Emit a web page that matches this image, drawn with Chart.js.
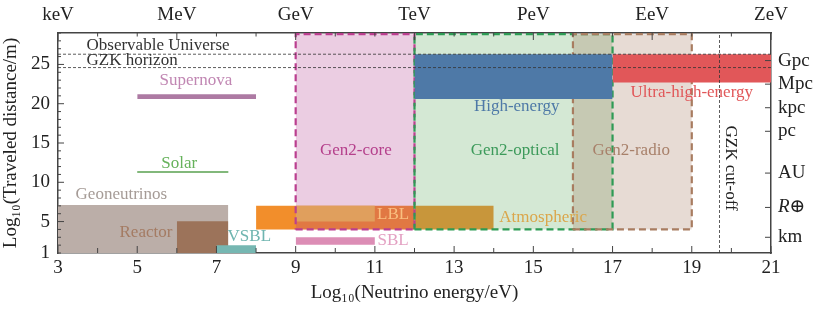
<!DOCTYPE html>
<html>
<head>
<meta charset="utf-8">
<script src="https://cdn.jsdelivr.net/npm/chart.js@4"></script>
<style>
  html, body { margin: 0; padding: 0; background: #fff; }
  #wrap { width: 822px; height: 311px; }
</style>
</head>
<body>
<div id="wrap"><canvas id="reach"></canvas></div>
<script>
// --- data (log10 energy in eV, log10 distance in m) ---
const energyMin = 3, energyMax = 21;
const distMin = 1, distMax = 29;

const topTickValues = [3, 6, 9, 12, 15, 18, 21];
const topTickLabels = ['keV', 'MeV', 'GeV', 'TeV', 'PeV', 'EeV', 'ZeV'];
const leftTickLabels = [1, 5, 10, 15, 20, 25];
const rightTickValues = [25.49, 22.49, 19.49, 16.49, 11.17, 6.80, 3.0];
const rightTickLabels = ['Gpc', 'Mpc', 'kpc', 'pc', 'AU', 'R⊕', 'km'];

// sources drawn below the Gen2 footprints
const sourceNames = ['Geoneutrinos', 'Reactor', 'VSBL', 'LBL', 'Atmospheric-low', 'Atmospheric', 'SBL', 'Supernova'];
const sourceEmin  = [3,    6,    7,   8,  9,  12, 9,    5];
const sourceEmax  = [7.3,  7.3,  8,   12, 11, 14, 11,   8];
const sourceDmin  = [1,    1,    1,   4,  5,  4,  2.05, 20.6];
const sourceDmax  = [7.1,  5.05, 2.0, 7,  7,  7,  3.0,  21.2];

// Gen2 footprints (dashed boxes)
const gen2Names = ['Gen2-core', 'Gen2-optical', 'Gen2-radio'];
const gen2Emin  = [9, 12, 16];
const gen2Emax  = [12, 17, 19];
const gen2Dmin  = [4, 4, 4];
const gen2Dmax  = [28.85, 28.85, 28.85];

// cosmic fluxes drawn on top
const cosmicNames = ['High-energy', 'Ultra-high-energy'];
const cosmicEmin  = [12, 17];
const cosmicEmax  = [17, 21];
const cosmicDmin  = [20.6, 22.7];
const cosmicDmax  = [26.3, 26.3];

const solarE = [5, 7.3];
const solarD = 11.3;
const observableUniverse = 26.3;
const gzkHorizon = 24.6;
const gzkCutoff = 19.7;

// --- styles ---
const fillColors = {
  'Geoneutrinos': '#bbaea8', 'Reactor': '#9c735a', 'VSBL': '#76b7b2', 'LBL': '#f28e2b',
  'Atmospheric-low': '#f0c24e', 'Atmospheric': '#f0973c', 'SBL': '#dc8db5', 'Supernova': '#ad7aa3',
  'Gen2-core': 'rgba(176,57,138,0.25)', 'Gen2-optical': 'rgba(60,150,60,0.22)', 'Gen2-radio': 'rgba(150,100,70,0.23)',
  'High-energy': '#4e79a7', 'Ultra-high-energy': '#e15759'
};
const edgeColors = { 'Gen2-core': '#bb3f8f', 'Gen2-optical': '#2e9b55', 'Gen2-radio': '#a87c60' };
const FONT = "'Liberation Serif', 'DejaVu Serif', serif";
const INK = '#222';

const labels = [
  { text: 'Observable Universe', x: 3.72, y: 27.35, color: '#333', align: 'left' },
  { text: 'GZK horizon', x: 3.72, y: 25.45, color: '#333', align: 'left' },
  { text: 'Supernova', x: 6.48, y: 22.9, color: '#c187b3' },
  { text: 'Solar', x: 6.06, y: 12.45, color: '#66b25b' },
  { text: 'Geoneutrinos', x: 4.6, y: 8.4, color: '#a59b96' },
  { text: 'Reactor', x: 5.22, y: 3.6, color: '#a47b63' },
  { text: 'VSBL', x: 7.83, y: 3.1, color: '#6fb5b0' },
  { text: 'LBL', x: 11.46, y: 5.85, color: '#f9bf80' },
  { text: 'SBL', x: 11.46, y: 2.55, color: '#e3a0c2' },
  { text: 'Atmospheric', x: 15.25, y: 5.55, color: '#dba64b' },
  { text: 'Gen2-core', x: 10.52, y: 14.0, color: '#b5408c' },
  { text: 'High-energy', x: 14.58, y: 19.6, color: '#4e79a7' },
  { text: 'Gen2-optical', x: 14.54, y: 14.0, color: '#3c9a5a' },
  { text: 'Gen2-radio', x: 17.47, y: 14.0, color: '#a8806a' },
  { text: 'Ultra-high-energy', x: 19.0, y: 21.4, color: '#e15759' },
  { text: 'GZK cut-off', x: 19.97, y: 11.8, color: '#222', rotate: true }
];

function filledBox(name, e0, e1, d0, d1) {
  return {
    label: name,
    data: [{ x: e0, y: d1 }, { x: e1, y: d1 }],
    borderWidth: 0, pointRadius: 0, tension: 0,
    backgroundColor: fillColors[name],
    fill: { value: d0 }
  };
}
function dashedEdge(name, e0, e1, d0, d1) {
  return {
    label: name + ' edge',
    data: [{ x: e0, y: d0 }, { x: e1, y: d0 }, { x: e1, y: d1 }, { x: e0, y: d1 }, { x: e0, y: d0 }],
    borderColor: edgeColors[name], borderWidth: 2.2, borderDash: [7, 4],
    pointRadius: 0, fill: false, tension: 0
  };
}
function refLine(name, pts) {
  return {
    label: name, data: pts, borderColor: '#333', borderWidth: 0.8, borderDash: [3, 2],
    pointRadius: 0, fill: false, tension: 0
  };
}

const layers = [];
sourceNames.forEach((n, i) => layers.push(filledBox(n, sourceEmin[i], sourceEmax[i], sourceDmin[i], sourceDmax[i])));
layers.push({
  label: 'Solar', data: [{ x: solarE[0], y: solarD }, { x: solarE[1], y: solarD }],
  borderColor: '#59a14f', borderWidth: 1.5, pointRadius: 0, fill: false
});
gen2Names.forEach((n, i) => layers.push(filledBox(n, gen2Emin[i], gen2Emax[i], gen2Dmin[i], gen2Dmax[i])));
gen2Names.forEach((n, i) => layers.push(dashedEdge(n, gen2Emin[i], gen2Emax[i], gen2Dmin[i], gen2Dmax[i])));
cosmicNames.forEach((n, i) => layers.push(filledBox(n, cosmicEmin[i], cosmicEmax[i], cosmicDmin[i], cosmicDmax[i])));
layers.push(refLine('Observable Universe', [{ x: energyMin, y: observableUniverse }, { x: energyMax, y: observableUniverse }]));
layers.push(refLine('GZK horizon', [{ x: energyMin, y: gzkHorizon }, { x: energyMax, y: gzkHorizon }]));
layers.push(refLine('GZK cut-off', [{ x: gzkCutoff, y: distMin }, { x: gzkCutoff, y: distMax }]));
// first pushed = bottom layer
layers.forEach((ds, i) => { ds.order = layers.length - i; });

const textLabels = {
  id: 'textLabels',
  afterDatasetsDraw(chart) {
    const { ctx, scales } = chart;
    ctx.save();
    ctx.font = '17px ' + FONT;
    ctx.textBaseline = 'middle';
    labels.forEach(l => {
      const px = scales.x.getPixelForValue(l.x);
      const py = scales.y.getPixelForValue(l.y);
      ctx.fillStyle = l.color;
      if (l.rotate) {
        ctx.save();
        ctx.translate(px, py);
        ctx.rotate(Math.PI / 2);
        ctx.textAlign = 'center';
        ctx.fillText(l.text, 0, 0);
        ctx.restore();
      } else {
        ctx.textAlign = l.align || 'center';
        ctx.fillText(l.text, px, py);
      }
    });
    ctx.restore();
  }
};

// matplotlib-style ticks pointing into the plot
const inwardTicks = {
  id: 'inwardTicks',
  afterDraw(chart) {
    const { ctx, chartArea: a, scales } = chart;
    ctx.save();
    ctx.strokeStyle = '#444';
    ctx.lineWidth = 1;
    const tick = (x0, y0, x1, y1) => { ctx.beginPath(); ctx.moveTo(x0, y0); ctx.lineTo(x1, y1); ctx.stroke(); };
    scales.x.ticks.forEach(t => {
      const p = scales.x.getPixelForValue(t.value);
      tick(p, a.bottom, p, a.bottom - (t.value % 2 === 1 ? 7 : 5));
    });
    scales.x2.ticks.forEach(t => {
      const p = scales.x2.getPixelForValue(t.value);
      tick(p, a.top, p, a.top + (t.value % 3 === 0 ? 7 : 3.5));
    });
    scales.y.ticks.forEach(t => {
      const p = scales.y.getPixelForValue(t.value);
      tick(a.left, p, a.left + (t.value % 5 === 0 ? 6 : 3), p);
    });
    scales.y2.ticks.forEach(t => {
      const p = scales.y2.getPixelForValue(t.value);
      tick(a.right, p, a.right - 6, p);
    });
    ctx.restore();
  }
};

const axisBorder = { display: true, color: '#444', width: 1.5 };
const tickFont = { family: FONT, size: 19 };

new Chart(document.getElementById('reach'), {
  type: 'line',
  data: { datasets: layers },
  options: {
    responsive: true,
    maintainAspectRatio: false,
    animation: false,
    layout: { padding: 0 },
    plugins: { legend: { display: false }, tooltip: { enabled: false } },
    scales: {
      x: {
        type: 'linear', position: 'bottom', min: energyMin, max: energyMax,
        ticks: { stepSize: 1, autoSkip: false, maxRotation: 0, color: INK, font: tickFont, padding: 4,
                 callback: v => (v % 2 === 1 ? String(v) : '') },
        grid: { drawOnChartArea: false, drawTicks: false },
        border: axisBorder,
        title: { display: true, text: 'Log₁₀(Neutrino energy/eV)', color: INK, font: tickFont, padding: { top: 0, bottom: 7 } },
        afterFit: s => { s.height = 58; }
      },
      x2: {
        type: 'linear', position: 'top', min: energyMin, max: energyMax,
        ticks: { stepSize: 1, autoSkip: false, maxRotation: 0, color: INK, font: tickFont, padding: 7,
                 callback: v => { const i = topTickValues.indexOf(v); return i >= 0 ? topTickLabels[i] : ''; } },
        grid: { drawOnChartArea: false, drawTicks: false },
        border: axisBorder,
        afterFit: s => { s.height = 33; }
      },
      y: {
        type: 'linear', position: 'left', min: distMin, max: distMax,
        ticks: { stepSize: 1, autoSkip: false, color: INK, font: tickFont, padding: 8,
                 callback: v => (leftTickLabels.includes(v) ? String(v) : '') },
        grid: { drawOnChartArea: false, drawTicks: false },
        border: axisBorder,
        title: { display: true, text: 'Log₁₀(Traveled distance/m)', color: INK, font: tickFont, padding: { top: 0, bottom: 0 } },
        afterFit: s => { s.width = 58; }
      },
      y2: {
        type: 'linear', position: 'right', min: distMin, max: distMax,
        afterBuildTicks: s => { s.ticks = rightTickValues.map(v => ({ value: v })); },
        ticks: { autoSkip: false, color: INK, padding: 7,
                 font: c => ({ family: FONT, size: 19, style: c.tick && c.tick.value === 6.80 ? 'italic' : 'normal' }),
                 callback: v => rightTickLabels[rightTickValues.indexOf(v)] },
        grid: { drawOnChartArea: false, drawTicks: false },
        border: axisBorder,
        afterFit: s => { s.width = 51; }
      }
    }
  },
  plugins: [textLabels, inwardTicks]
});
</script>
</body>
</html>
